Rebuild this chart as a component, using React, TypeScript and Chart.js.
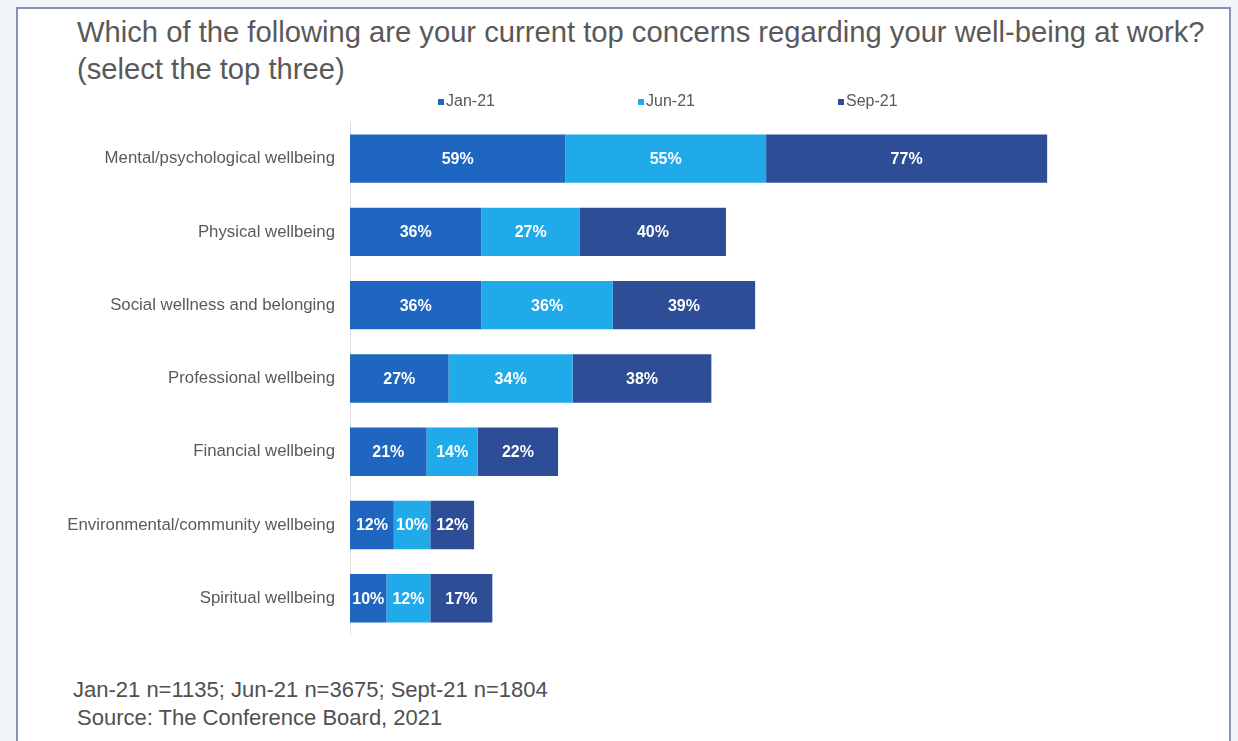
import React, { useEffect, useRef } from "react";
import { Chart, registerables } from "chart.js";

Chart.register(...registerables);

const categories = [
  "Mental/psychological wellbeing",
  "Physical wellbeing",
  "Social wellness and belonging",
  "Professional wellbeing",
  "Financial wellbeing",
  "Environmental/community wellbeing",
  "Spiritual wellbeing",
];
const seriesLabels = ["Jan-21", "Jun-21", "Sep-21"];
const jan21 = [59, 36, 36, 27, 21, 12, 10];
const jun21 = [55, 27, 36, 34, 14, 10, 12];
const sep21 = [77, 40, 39, 38, 22, 12, 17];
const seriesColors = ["#1f66c1", "#21aaea", "#2e4d97"];

const titleLines = [
  "Which of the following are your current top concerns regarding your well-being at work?",
  "(select the top three)",
];
const footnotes = [
  "Jan-21 n=1135; Jun-21 n=3675; Sept-21 n=1804",
  "Source: The Conference Board, 2021",
];

const FONT = '"Liberation Sans", Arial, Helvetica, sans-serif';

const customLegend = {
  id: "customLegend",
  afterDraw(chart: any) {
    const { ctx, chartArea } = chart;
    ctx.save();
    ctx.font = `16px ${FONT}`;
    ctx.textBaseline = "middle";
    ctx.textAlign = "left";
    chart.data.datasets.forEach((ds: any, i: number) => {
      const x = chartArea.left + 88 + i * 200;
      const y = 22;
      ctx.fillStyle = ds.backgroundColor;
      ctx.fillRect(x, y - 3, 6, 6);
      ctx.fillStyle = "#595959";
      ctx.fillText(ds.label, x + 8, y);
    });
    ctx.restore();
  },
};

const barValueLabels = {
  id: "barValueLabels",
  afterDatasetsDraw(chart: any) {
    const { ctx } = chart;
    ctx.save();
    ctx.font = `bold 16px ${FONT}`;
    ctx.fillStyle = "#ffffff";
    ctx.textAlign = "center";
    ctx.textBaseline = "middle";
    chart.data.datasets.forEach((ds: any, i: number) => {
      const meta = chart.getDatasetMeta(i);
      meta.data.forEach((bar: any, j: number) => {
        const { x, y, base } = bar.getProps(["x", "y", "base"], true);
        ctx.fillText(`${ds.data[j]}%`, (x + base) / 2, y + 1);
      });
    });
    ctx.restore();
  },
};

export default function App() {
  const canvasRef = useRef<HTMLCanvasElement | null>(null);

  useEffect(() => {
    if (!canvasRef.current) return;
    const chart = new Chart(canvasRef.current, {
      type: "bar",
      data: {
        labels: categories,
        datasets: [jan21, jun21, sep21].map((d, i) => ({
          label: seriesLabels[i],
          data: d,
          backgroundColor: seriesColors[i],
          borderWidth: 0,
          categoryPercentage: 1,
          barPercentage: 0.66,
        })),
      },
      options: {
        indexAxis: "y",
        responsive: false,
        animation: false,
        layout: { padding: { top: 42, bottom: 18, right: 2, left: 0 } },
        plugins: {
          legend: { display: false },
          tooltip: { enabled: false },
          title: { display: false },
        },
        scales: {
          x: {
            stacked: true,
            min: 0,
            max: 240,
            display: false,
          },
          y: {
            stacked: true,
            grid: { display: false, drawTicks: false },
            border: { display: true, color: "#dedede", width: 1 },
            ticks: {
              color: "#5a5a5a",
              font: { family: FONT, size: 16.8 },
              padding: 15,
            },
            afterFit: (scale: any) => {
              scale.width = 332;
            },
          },
        },
      },
      plugins: [barValueLabels, customLegend],
    });
    return () => chart.destroy();
  }, []);

  return (
    <div
      style={{
        position: "absolute",
        left: 0,
        top: 0,
        width: 1238,
        height: 741,
        overflow: "hidden",
        background: "#f3f6f9",
        fontFamily: FONT,
      }}
    >
      <div
        style={{
          position: "absolute",
          left: 16,
          top: 7,
          width: 1211,
          height: 800,
          border: "2px solid #8891b8",
          background: "#ffffff",
        }}
      />
      <div
        style={{
          position: "absolute",
          left: 77,
          top: 14,
          fontSize: 29.2,
          lineHeight: "37px",
          color: "#595959",
          whiteSpace: "nowrap",
        }}
      >
        {titleLines.map((t, i) => (
          <div key={i}>{t}</div>
        ))}
      </div>
      <div style={{ position: "absolute", left: 18, top: 80, width: 1210, height: 580 }}>
        <canvas ref={canvasRef} width={1210} height={580} />
      </div>
      <div
        style={{
          position: "absolute",
          left: 73,
          top: 676,
          fontSize: 22,
          lineHeight: "28px",
          color: "#505050",
          whiteSpace: "nowrap",
        }}
      >
        {footnotes[0]}
      </div>
      <div
        style={{
          position: "absolute",
          left: 77,
          top: 704,
          fontSize: 22,
          lineHeight: "28px",
          color: "#505050",
          whiteSpace: "nowrap",
        }}
      >
        {footnotes[1]}
      </div>
    </div>
  );
}
